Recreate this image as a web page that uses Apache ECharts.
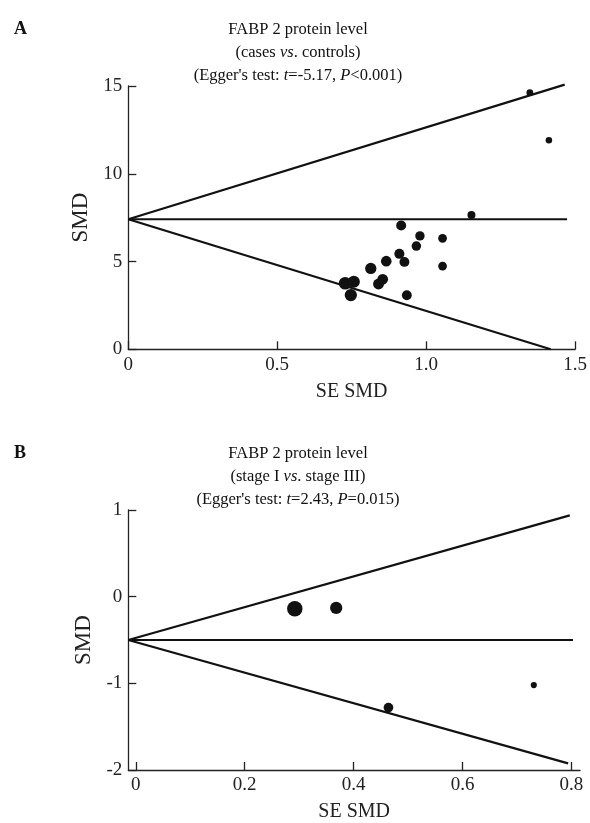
<!DOCTYPE html>
<html><head><meta charset="utf-8">
<script src="https://cdn.jsdelivr.net/npm/echarts@6/dist/echarts.min.js"></script>
<style>html,body{margin:0;padding:0;background:#fff}#c{width:590px;height:823px}</style>
</head><body><div id="c"></div>
<script>
// Panel A: cases vs. controls
const seA  = [1.348, 1.412, 1.152, 0.916, 0.979, 0.967, 1.055, 1.055, 0.910, 0.927, 0.866, 0.814, 0.854, 0.840, 0.728, 0.757, 0.747, 0.935];
const smdA = [14.62, 11.91, 7.65, 7.05, 6.46, 5.88, 6.32, 4.74, 5.44, 4.98, 5.02, 4.61, 3.99, 3.72, 3.76, 3.85, 3.09, 3.08];
const funnelA_upper = [[0, 7.41], [1.465, 15.08]];
const funnelA_mid   = [[0, 7.41], [1.473, 7.41]];
const funnelA_lower = [[0, 7.41], [1.418, 0]];
const xTicksA = [0, 0.5, 1.0, 1.5];
const yTicksA = [0, 5, 10, 15];

// Panel B: stage I vs. stage III
const seB  = [0.292, 0.368, 0.464, 0.731];
const smdB = [-0.14, -0.13, -1.28, -1.02];
const funnelB_upper = [[-0.0138, -0.5], [0.797, 0.938]];
const funnelB_mid   = [[-0.0138, -0.5], [0.803, -0.5]];
const funnelB_lower = [[-0.0138, -0.5], [0.794, -1.924]];
const xTicksB = [0, 0.2, 0.4, 0.6, 0.8];
const yTicksB = [-2, -1, 0, 1];

const FF = 'Liberation Serif';
const INK = '#111';

function pts(xs, ys) { return xs.map((x, i) => [x, ys[i]]); }

function axisCommon(extra) {
  return Object.assign({
    axisLine: { show: true, onZero: false, lineStyle: { color: '#222', width: 1.3 } },
    splitLine: { show: false },
    nameTextStyle: { fontFamily: FF, fontSize: 20, color: '#222' }
  }, extra);
}
function lbl(ticks, f) {
  const o = { fontFamily: FF, fontSize: 19, color: '#222', margin: 6, customValues: ticks };
  if (f) o.formatter = f;
  return o;
}
function tck(ticks) {
  return { show: true, inside: true, length: 8, lineStyle: { color: '#222', width: 1.3 }, customValues: ticks };
}
function fmt(v) { return v === 0 ? '0' : v.toFixed(1); }

const titleStyle = {
  fontFamily: FF, fontSize: 16.5, lineHeight: 23, color: INK, fontWeight: 'normal',
  rich: { i: { fontFamily: FF, fontSize: 16.5, lineHeight: 23, fontStyle: 'italic', color: INK } }
};

function lineSeries(data, xi, yi) {
  return { type: 'line', xAxisIndex: xi, yAxisIndex: yi, data: data, symbol: 'none', clip: false,
    silent: true, z: 2, lineStyle: { color: INK, width: 2.2 } };
}

const option = {
  animation: false,
  backgroundColor: '#fff',
  title: [
    { text: 'A', left: 9, top: 15, textStyle: { fontFamily: FF, fontSize: 18, fontWeight: 'bold', color: INK } },
    { text: 'FABP 2 protein level\n(cases {i|vs}. controls)\n(Egger\'s test: {i|t}=-5.17, {i|P}<0.001)',
      left: 293, top: 13, textAlign: 'center', textStyle: titleStyle },
    { text: 'B', left: 9, top: 439, textStyle: { fontFamily: FF, fontSize: 18, fontWeight: 'bold', color: INK } },
    { text: 'FABP 2 protein level\n(stage I {i|vs}. stage III)\n(Egger\'s test: {i|t}=2.43, {i|P}=0.015)',
      left: 293, top: 437, textAlign: 'center', textStyle: titleStyle }
  ],
  grid: [
    { left: 128.3, top: 86, width: 452, height: 263.3 },
    { left: 128.3, top: 510, width: 451.7, height: 263.7 }
  ],
  xAxis: [
    axisCommon({ gridIndex: 0, type: 'value', min: 0, max: 1.5, interval: 0.5,
      name: 'SE SMD', nameLocation: 'middle', nameGap: 32,
      axisLabel: lbl(xTicksA, fmt), axisTick: tck(xTicksA) }),
    axisCommon({ gridIndex: 1, type: 'value', min: -0.0138, max: 0.8158,
      name: 'SE SMD', nameLocation: 'middle', nameGap: 32,
      axisLabel: lbl(xTicksB, fmt), axisTick: tck(xTicksB) })
  ],
  yAxis: [
    axisCommon({ gridIndex: 0, type: 'value', min: 0, max: 15, interval: 5,
      name: 'SMD', nameLocation: 'middle', nameGap: 29, nameRotate: 90,
      nameTextStyle: { fontFamily: FF, fontSize: 23, color: '#222' },
      axisLabel: lbl(yTicksA), axisTick: tck(yTicksA) }),
    axisCommon({ gridIndex: 1, type: 'value', min: -2, max: 1, interval: 1,
      name: 'SMD', nameLocation: 'middle', nameGap: 29, nameRotate: 90,
      nameTextStyle: { fontFamily: FF, fontSize: 23, color: '#222' },
      axisLabel: lbl(yTicksB), axisTick: tck(yTicksB) })
  ],
  series: [
    lineSeries(funnelA_upper, 0, 0),
    lineSeries(funnelA_mid, 0, 0),
    lineSeries(funnelA_lower, 0, 0),
    { type: 'scatter', xAxisIndex: 0, yAxisIndex: 0, data: pts(seA, smdA), z: 5,
      symbolSize: function (v) { return 9.2 / v[0]; }, itemStyle: { color: INK, opacity: 1 } },
    lineSeries(funnelB_upper, 1, 1),
    lineSeries(funnelB_mid, 1, 1),
    lineSeries(funnelB_lower, 1, 1),
    { type: 'scatter', xAxisIndex: 1, yAxisIndex: 1, data: pts(seB, smdB), z: 5,
      symbolSize: function (v) { return 4.5 / v[0]; }, itemStyle: { color: INK, opacity: 1 } }
  ]
};

const chart = echarts.init(document.getElementById('c'), null, { renderer: 'canvas' });
chart.setOption(option);
</script>
</body></html>
